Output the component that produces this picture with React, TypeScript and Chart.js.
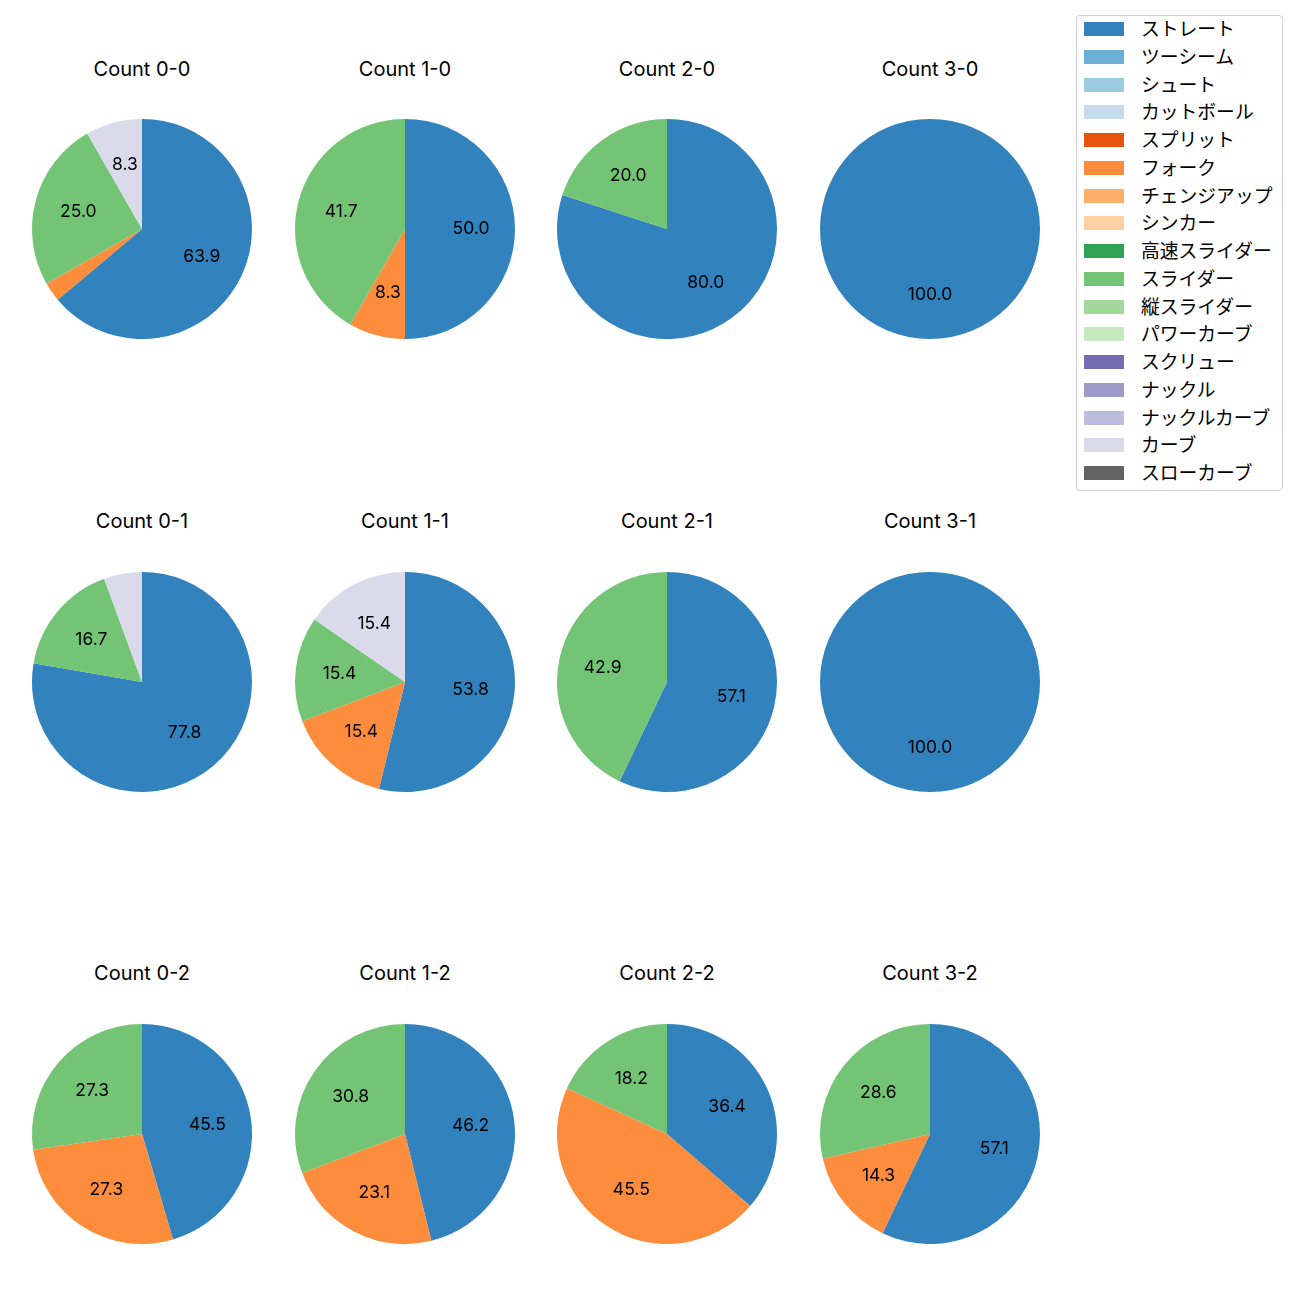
import React, { useEffect, useRef } from "react";
import { Chart, registerables } from "chart.js";

Chart.register(...registerables);

const pitchTypes = [
  "ストレート", "ツーシーム", "シュート", "カットボール", "スプリット", "フォーク",
  "チェンジアップ", "シンカー", "高速スライダー", "スライダー", "縦スライダー",
  "パワーカーブ", "スクリュー", "ナックル", "ナックルカーブ", "カーブ", "スローカーブ",
];

const pitchColors = [
  "#3182bd", "#6baed6", "#9ecae1", "#c6dbef", "#e6550d", "#fd8d3c",
  "#fdae6b", "#fdd0a2", "#31a354", "#74c476", "#a1d99b", "#c7e9c0",
  "#756bb1", "#9e9ac8", "#bcbddc", "#dadaeb", "#636363",
];

const countTitles = [
  "Count 0-0", "Count 1-0", "Count 2-0", "Count 3-0",
  "Count 0-1", "Count 1-1", "Count 2-1", "Count 3-1",
  "Count 0-2", "Count 1-2", "Count 2-2", "Count 3-2",
];

// percentage share per pitch type, order = pitchTypes
const count00 = [63.9, 0, 0, 0, 0, 2.8, 0, 0, 0, 25.0, 0, 0, 0, 0, 0, 8.3, 0];
const count10 = [50.0, 0, 0, 0, 0, 8.3, 0, 0, 0, 41.7, 0, 0, 0, 0, 0, 0, 0];
const count20 = [80.0, 0, 0, 0, 0, 0, 0, 0, 0, 20.0, 0, 0, 0, 0, 0, 0, 0];
const count30 = [100.0, 0, 0, 0, 0, 0, 0, 0, 0, 0, 0, 0, 0, 0, 0, 0, 0];
const count01 = [77.8, 0, 0, 0, 0, 0, 0, 0, 0, 16.7, 0, 0, 0, 0, 0, 5.6, 0];
const count11 = [53.8, 0, 0, 0, 0, 15.4, 0, 0, 0, 15.4, 0, 0, 0, 0, 0, 15.4, 0];
const count21 = [57.1, 0, 0, 0, 0, 0, 0, 0, 0, 42.9, 0, 0, 0, 0, 0, 0, 0];
const count31 = [100.0, 0, 0, 0, 0, 0, 0, 0, 0, 0, 0, 0, 0, 0, 0, 0, 0];
const count02 = [45.5, 0, 0, 0, 0, 27.3, 0, 0, 0, 27.3, 0, 0, 0, 0, 0, 0, 0];
const count12 = [46.2, 0, 0, 0, 0, 23.1, 0, 0, 0, 30.8, 0, 0, 0, 0, 0, 0, 0];
const count22 = [36.4, 0, 0, 0, 0, 45.5, 0, 0, 0, 18.2, 0, 0, 0, 0, 0, 0, 0];
const count32 = [57.1, 0, 0, 0, 0, 14.3, 0, 0, 0, 28.6, 0, 0, 0, 0, 0, 0, 0];

const allCounts = [
  count00, count10, count20, count30,
  count01, count11, count21, count31,
  count02, count12, count22, count32,
];

const FONT = 'Inter, "Noto Sans CJK JP", sans-serif';
const JFONT = '"Noto Sans CJK JP", sans-serif';
const colCenters = [142, 405, 667, 930];
const rowCenters = [229, 682, 1134];
const titleYs = [69, 521, 973];
const RADIUS = 110;
const BOX = 240;

const labelPlugin = {
  id: "pctLabels",
  afterDatasetsDraw(chart: any) {
    const ctx = chart.ctx;
    const meta = chart.getDatasetMeta(0);
    const data = chart.data.datasets[0].data as number[];
    ctx.save();
    ctx.font = `17.5px ${FONT}`;
    ctx.fillStyle = "#000";
    ctx.textAlign = "center";
    ctx.textBaseline = "middle";
    meta.data.forEach((arc: any, i: number) => {
      const v = data[i];
      if (v < 6) return;
      const { x, y, startAngle, endAngle, outerRadius } = arc.getProps(
        ["x", "y", "startAngle", "endAngle", "outerRadius"], true
      );
      const mid = (startAngle + endAngle) / 2;
      const r = outerRadius * 0.6;
      ctx.fillText(v.toFixed(1), x + Math.cos(mid) * r, y + Math.sin(mid) * r);
    });
    ctx.restore();
  },
};

function PieCell({ values }: { values: number[] }) {
  const ref = useRef<HTMLCanvasElement>(null);
  useEffect(() => {
    if (!ref.current) return;
    const chart = new Chart(ref.current, {
      type: "pie",
      data: {
        labels: pitchTypes,
        datasets: [{ data: values, backgroundColor: pitchColors, borderWidth: 0 }],
      },
      options: {
        animation: false,
        responsive: false,
        maintainAspectRatio: false,
        radius: RADIUS,
        layout: { padding: 0 },
        plugins: { legend: { display: false }, tooltip: { enabled: false }, title: { display: false } },
      } as any,
      plugins: [labelPlugin],
    });
    return () => chart.destroy();
  }, [values]);
  return <canvas ref={ref} width={BOX} height={BOX} style={{ width: BOX, height: BOX, display: "block" }} />;
}

export default function App() {
  return (
    <div style={{ position: "absolute", left: 0, top: 0, width: 1300, height: 1300, background: "#fff", fontFamily: FONT }}>
      {allCounts.map((vals, i) => {
        const c = i % 4;
        const r = Math.floor(i / 4);
        return (
          <React.Fragment key={i}>
            <div
              style={{
                position: "absolute", left: colCenters[c] - 100, width: 200, top: titleYs[r] - 13,
                height: 26, lineHeight: "26px", textAlign: "center", fontSize: 20, color: "#000",
              }}
            >
              {countTitles[i]}
            </div>
            <div style={{ position: "absolute", left: colCenters[c] - BOX / 2, top: rowCenters[r] - BOX / 2 }}>
              <PieCell values={vals} />
            </div>
          </React.Fragment>
        );
      })}
      <div
        style={{
          position: "absolute", left: 1076, top: 15, width: 205, height: 474,
          border: "1px solid #d0d0d0", borderRadius: 4, background: "#fff", fontFamily: JFONT,
        }}
      >
        {pitchTypes.map((p, i) => (
          <div key={p} style={{ position: "absolute", left: 0, top: 13 + i * 27.75 - 13, height: 26, width: 205 }}>
            <div style={{ position: "absolute", left: 7, top: 6, width: 40, height: 14, background: pitchColors[i] }} />
            <div style={{ position: "absolute", left: 64, top: -1, lineHeight: "26px", fontSize: 18.8, color: "#000", whiteSpace: "nowrap" }}>
              {p}
            </div>
          </div>
        ))}
      </div>
    </div>
  );
}
